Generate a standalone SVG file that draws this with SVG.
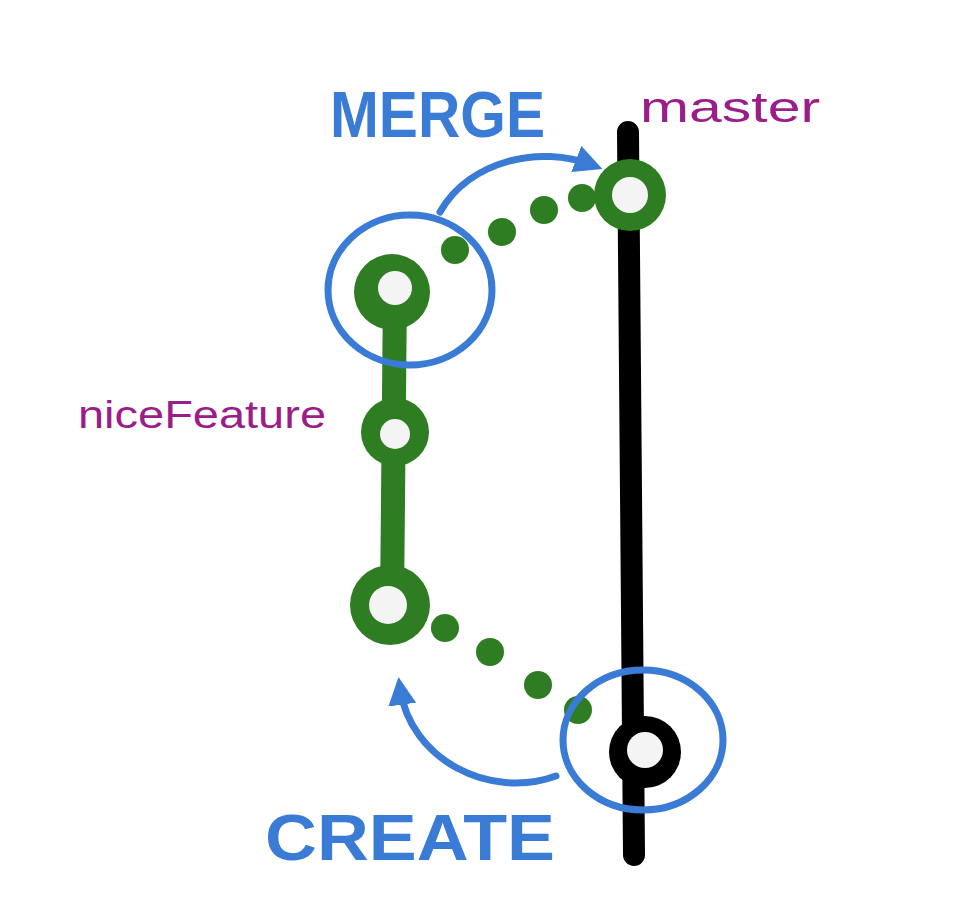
<svg xmlns="http://www.w3.org/2000/svg" width="956" height="920" viewBox="0 0 956 920">
<defs>
<style>
.blue{fill:none;stroke:#3a7bd5;stroke-width:7;stroke-linecap:round}
.lbl{font-family:"Liberation Sans",Arial,sans-serif}
.g{fill:#2f7d22}
.w{fill:#f4f4f4}
</style>
<marker id="ah" viewBox="0 0 10 10" refX="6" refY="5" markerWidth="4" markerHeight="4" orient="auto"><path d="M0,0 L10,5 L0,10 Z" fill="#3a7bd5"/></marker>
</defs>
<rect width="956" height="920" fill="#fff"/>
<g id="connectors">
<line x1="628" y1="132" x2="634" y2="855" stroke="#000" stroke-width="22" stroke-linecap="round"/>
<line x1="395" y1="290" x2="392" y2="605" stroke="#2f7d22" stroke-width="24"/>
<g class="g">
<circle cx="455" cy="250" r="14"/><circle cx="502" cy="232" r="14"/><circle cx="544" cy="210" r="14"/><circle cx="582" cy="198" r="14"/>
<circle cx="445" cy="628" r="14"/><circle cx="490" cy="652" r="14"/><circle cx="538" cy="685" r="14"/><circle cx="578" cy="710" r="14"/>
</g>
<path class="blue" d="M440,212 C470,160 540,145 592,165" marker-end="url(#ah)"/>
<path class="blue" d="M556,776 C490,800 410,760 400,688" marker-end="url(#ah)"/>
</g>
<g id="master-node"><circle class="g" cx="630" cy="195" r="36"/><circle class="w" cx="630" cy="195" r="18"/></g>
<g id="feature-top"><circle class="g" cx="392" cy="292" r="38"/><circle class="w" cx="395" cy="288" r="17"/></g>
<g id="feature-mid"><circle class="g" cx="395" cy="432" r="34"/><circle class="w" cx="395" cy="434" r="15"/></g>
<g id="feature-bottom"><circle class="g" cx="390" cy="605" r="40"/><circle class="w" cx="388" cy="605" r="19"/></g>
<g id="base-node"><circle cx="645" cy="752" r="36" fill="#000"/><circle class="w" cx="645" cy="750" r="18"/></g>
<g id="highlights">
<ellipse class="blue" cx="410" cy="290" rx="82" ry="75" stroke-width="5"/>
<ellipse class="blue" cx="643" cy="740" rx="80" ry="70" stroke-width="5"/>
</g>
<g id="labels">
<text class="lbl" x="330" y="137" font-size="64" font-weight="bold" fill="#3a7bd5" textLength="215" lengthAdjust="spacingAndGlyphs">MERGE</text>
<text class="lbl" x="265" y="860" font-size="64" font-weight="bold" fill="#3a7bd5" textLength="290" lengthAdjust="spacingAndGlyphs">CREATE</text>
<text class="lbl" x="640" y="122" font-size="42" fill="#9a1d8a" textLength="180" lengthAdjust="spacingAndGlyphs">master</text>
<text class="lbl" x="78" y="428" font-size="38" fill="#9a1d8a" textLength="248" lengthAdjust="spacingAndGlyphs">niceFeature</text>
</g>
</svg>
